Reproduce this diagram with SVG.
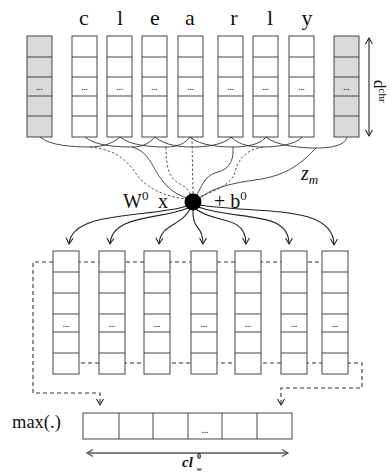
<svg xmlns="http://www.w3.org/2000/svg" width="392" height="473" viewBox="0 0 392 473">
<defs>
<style>
.serif{font-family:"Liberation Serif","Times New Roman",serif;fill:#111}
.cell{fill:#fff;stroke:#444;stroke-width:1}
.gray{fill:#d9d9d9;stroke:#444;stroke-width:1}
.div{stroke:#444;stroke-width:1}
.dots{font-family:"Liberation Sans",Arial,sans-serif;font-size:8px;font-weight:bold;fill:#333;text-anchor:middle}
.ln{fill:none;stroke:#333;stroke-width:0.9}
.dl{fill:none;stroke:#444;stroke-width:0.9;stroke-dasharray:2.5 2}
.dbox{fill:none;stroke:#333;stroke-width:1.1;stroke-dasharray:4 3}
.ar{fill:none;stroke:#222;stroke-width:1.1}
</style>
<marker id="ah" markerWidth="10" markerHeight="10" refX="7" refY="5" orient="auto" markerUnits="userSpaceOnUse"><path d="M1,1.5 L7,5 L1,8.5" fill="none" stroke="#222" stroke-width="1.1"/></marker>
<marker id="ahs" markerWidth="10" markerHeight="10" refX="3" refY="5" orient="auto" markerUnits="userSpaceOnUse"><path d="M9,1.5 L3,5 L9,8.5" fill="none" stroke="#222" stroke-width="1.1"/></marker>
<marker id="ahg" markerWidth="10" markerHeight="10" refX="7" refY="5" orient="auto" markerUnits="userSpaceOnUse"><path d="M1,1.5 L7,5 L1,8.5" fill="none" stroke="#555" stroke-width="1.3"/></marker>
<marker id="ahgs" markerWidth="10" markerHeight="10" refX="3" refY="5" orient="auto" markerUnits="userSpaceOnUse"><path d="M9,1.5 L3,5 L9,8.5" fill="none" stroke="#555" stroke-width="1.3"/></marker>
<g id="topcol">
<rect class="cell" x="0" y="36" width="25" height="101"/>
<path class="div" d="M0,57H25M0,77H25M0,96H25M0,116H25"/>
<text class="dots" x="12.5" y="90">...</text>
</g>
<g id="topgray">
<rect class="gray" x="0" y="36" width="25" height="101"/>
<path class="div" d="M0,57H25M0,77H25M0,96H25M0,116H25"/>
<text class="dots" x="12.5" y="90">...</text>
</g>
<g id="botcol">
<rect class="cell" x="0" y="251" width="26" height="123"/>
<path class="div" d="M0,272H26M0,293H26M0,314H26M0,332H26M0,353H26"/>
<text class="dots" x="13" y="327">...</text>
</g>
</defs>

<g id="letters" class="serif" font-size="22" text-anchor="middle">
<text x="84" y="25">c</text>
<text x="120" y="25">l</text>
<text x="155" y="25">e</text>
<text x="190" y="25">a</text>
<text x="234" y="25">r</text>
<text x="270" y="25">l</text>
<text x="307" y="25">y</text>
</g>

<g id="input-pad-left"><use href="#topgray" x="27"/></g>
<g id="input-c"><use href="#topcol" x="72"/></g>
<g id="input-l1"><use href="#topcol" x="107"/></g>
<g id="input-e"><use href="#topcol" x="142"/></g>
<g id="input-a"><use href="#topcol" x="178"/></g>
<g id="input-r"><use href="#topcol" x="218"/></g>
<g id="input-l2"><use href="#topcol" x="253"/></g>
<g id="input-y"><use href="#topcol" x="289"/></g>
<g id="input-pad-right"><use href="#topgray" x="334"/></g>

<g id="dchr">
<path class="ar" d="M369,38V136" marker-start="url(#ahs)" marker-end="url(#ah)"/>
<text class="serif" font-size="17" transform="translate(374,80) rotate(90)">d<tspan font-size="11" dy="-5">chr</tspan></text>
</g>

<g id="connectors">
<path class="ln" d="M40,137 C50,146 75,147 90,147"/>
<path class="ln" d="M120,137 C112,145 98,147 90,147"/>
<path class="ln" d="M85,137 C95,146 118,147 132,147"/>
<path class="ln" d="M155,137 C148,145 140,147 132,147"/>
<path class="ln" d="M120,137 C130,146 155,147 166,147"/>
<path class="ln" d="M190,137 C184,145 175,147 166,147"/>
<path class="ln" d="M155,137 C165,146 183,147 192,147"/>
<path class="ln" d="M231,137 C224,145 205,147 192,147"/>
<path class="ln" d="M190,137 C200,146 222,147 233,147"/>
<path class="ln" d="M266,137 C260,145 245,147 233,147"/>
<path class="ln" d="M231,137 C240,146 253,147 263,147"/>
<path class="ln" d="M302,137 C296,145 275,147 263,147"/>
<path class="ln" d="M266,137 C276,146 302,148 316,148"/>
<path class="ln" d="M347,137 C345,146 330,148 316,148"/>
<path class="dl" d="M90,147 C118,150 128,162 137,175 C148,190 168,197 186,199"/>
<path class="ln" d="M132,147 C150,152 152,168 162,180 C170,191 178,195 187,198"/>
<path class="dl" d="M166,147 C166,165 168,178 180,184 C187,188 190,191 191,196"/>
<path class="dl" d="M192,137 L193,194"/>
<path class="ln" d="M233,147 C234,165 226,170 215,173 C205,176 201,187 197,195"/>
<path class="dl" d="M263,147 C245,150 238,160 235,172 C232,185 212,192 199,197"/>
<path class="ln" d="M316,148 C300,165 285,176 255,180 C225,184 210,190 200,198"/>
<path class="ar" d="M187,206 C150,218 72,210 69,244" marker-end="url(#ah)"/>
<path class="ar" d="M188,208 C160,220 112,214 110,244" marker-end="url(#ah)"/>
<path class="ar" d="M190,209 C182,226 160,224 159,244" marker-end="url(#ah)"/>
<path class="ar" d="M193,210 C192,230 203,225 203,244" marker-end="url(#ah)"/>
<path class="ar" d="M196,209 C214,224 246,214 246,244" marker-end="url(#ah)"/>
<path class="ar" d="M198,207 C238,221 289,210 289,244" marker-end="url(#ah)"/>
<path class="ar" d="M199,205 C260,214 334,204 334,245" marker-end="url(#ah)"/>
<path class="dbox" d="M347,262H33V393H100V405" marker-end="url(#ah)"/>
<path class="dbox" d="M53,363H362V388H281V405" marker-end="url(#ah)"/>
<path fill="none" stroke="#555" stroke-width="1.3" d="M87,453H288" marker-start="url(#ahgs)" marker-end="url(#ahg)"/>
</g>

<g id="node">
<circle cx="193" cy="202" r="8.5" fill="#000"/>
<text class="serif" font-size="20" x="123" y="208">W<tspan font-size="13" dy="-8">0</tspan></text>
<text class="serif" font-size="20" x="158" y="208">x</text>
<text class="serif" font-size="20" x="214" y="208">+ b<tspan font-size="13" dy="-8">0</tspan></text>
<text class="serif" font-size="20" font-style="italic" x="301" y="180">z<tspan font-size="13" dy="4">m</tspan></text>
</g>

<g id="output-1"><use href="#botcol" x="53"/></g>
<g id="output-2"><use href="#botcol" x="99"/></g>
<g id="output-3"><use href="#botcol" x="144"/></g>
<g id="output-4"><use href="#botcol" x="191"/></g>
<g id="output-5"><use href="#botcol" x="235"/></g>
<g id="output-6"><use href="#botcol" x="281"/></g>
<g id="output-7"><use href="#botcol" x="322"/></g>

<g id="maxpool">
<text class="serif" font-size="18.5" x="12" y="428">max(.)</text>
<rect class="cell" x="83" y="413" width="209" height="26"/>
<path class="div" d="M119,413V439M153,413V439M188,413V439M222,413V439M257,413V439"/>
<text class="dots" x="205" y="433">...</text>
</g>

<g id="cl-label">
<text class="serif" font-size="15" font-style="italic" font-weight="bold" x="182" y="467">cl</text>
<text class="serif" font-size="8" font-weight="bold" x="197" y="459">0</text>
<text class="serif" font-size="7" font-style="italic" font-weight="bold" x="197" y="471">w</text>
</g>
</svg>
